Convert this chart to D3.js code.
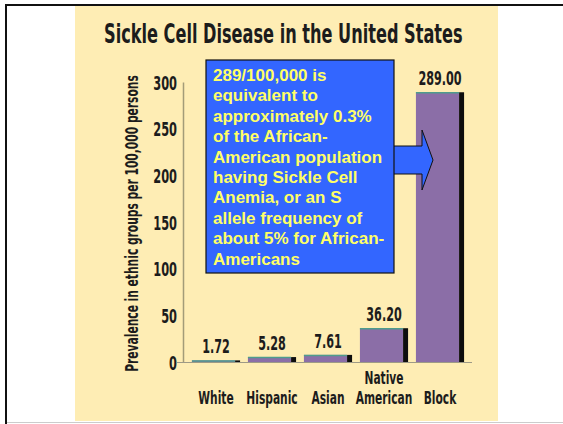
<!DOCTYPE html>
<html>
<head>
<meta charset="utf-8">
<script src="https://cdn.jsdelivr.net/npm/d3@7"></script>
<style>
  html, body { margin: 0; padding: 0; background: #fff; }
  svg { display: block; }
</style>
</head>
<body>
<div id="chart"></div>
<script>
/* data */
const categories = ['White', 'Hispanic', 'Asian', 'Native American', 'Black'];
const catLabels  = [['White'], ['Hispanic'], ['Asian'], ['Native', 'American'], ['Block']];
const values     = [1.72, 5.28, 7.61, 36.20, 289.00];
const yTicks     = [0, 50, 100, 150, 200, 250, 300];
const noteLines  = [
  '289/100,000 is',
  'equivalent to',
  'approximately 0.3%',
  'of the African-',
  'American population',
  'having Sickle Cell',
  'Anemia, or an S',
  'allele frequency of',
  'about 5% for African-',
  'Americans'
];

const W = 563, H = 424;
const FONT = '"DejaVu Sans", sans-serif';
const svg = d3.select('#chart').append('svg').attr('width', W).attr('height', H);

/* condensed look: squeeze a normal bold face horizontally */
function condText(parent, x, y, str, size, sx, anchor, rot) {
  const g = parent.append('g')
    .attr('transform', `translate(${x},${y})` + (rot ? ` rotate(${rot})` : '') + ` scale(${sx},1)`);
  return g.append('text')
    .attr('font-family', FONT).attr('font-weight', 'bold')
    .attr('font-size', size).attr('fill', '#1c1c1c')
    .attr('text-anchor', anchor || 'start')
    .text(str);
}
function fitWidth(t, target) {
  const len = t.node().getComputedTextLength();
  const g = d3.select(t.node().parentNode);
  g.attr('transform', g.attr('transform').replace(/scale\([^)]*\)/, `scale(${target / len},1)`));
}

/* slide frame + cream picture */
svg.append('rect').attr('x', 75).attr('y', 6).attr('width', 423).attr('height', 415).attr('fill', '#feedb4');
svg.append('line').attr('x1', 5).attr('x2', W).attr('y1', 5).attr('y2', 5).attr('stroke', '#111').attr('stroke-width', 2);
svg.append('line').attr('x1', 6).attr('x2', 6).attr('y1', 4).attr('y2', H).attr('stroke', '#111').attr('stroke-width', 2);
svg.append('line').attr('x1', 7).attr('x2', W).attr('y1', 422.5).attr('y2', 422.5).attr('stroke', '#ccc').attr('stroke-width', 1);

const x = d3.scaleBand().domain(categories).range([188, 468]).paddingInner(0.14).paddingOuter(0.07);
const y = d3.scaleLinear().domain([0, 300]).range([362, 82]);

/* title */
const title = condText(svg, 104, 43, 'Sickle Cell Disease in the United States', 26, 1, 'start');
fitWidth(title, 359);

/* y axis */
const yAxis = d3.axisLeft(y).tickValues(yTicks).tickSize(0).tickFormat('');
const gy = svg.append('g').attr('transform', 'translate(183,0)').call(yAxis);
gy.select('.domain').attr('stroke', '#a39c78').attr('stroke-width', 1.5);
gy.selectAll('.tick').each(function (d) {
  condText(d3.select(this), -6, 7, d, 20, 0.57, 'end');
});

const ylab = condText(svg, 138, (75 + 372) / 2, 'Prevalence in ethnic groups per 100,000 persons', 17, 1, 'middle', -90);
fitWidth(ylab, 297);

/* baseline */
svg.append('line').attr('x1', 177).attr('x2', 472).attr('y1', y(0) + 0.5).attr('y2', y(0) + 0.5)
  .attr('stroke', '#9e9a86').attr('stroke-width', 1);

/* bars */
const data = categories.map((c, i) => ({ c, v: values[i], lab: catLabels[i] }));
const bw = x.bandwidth(), side = 5;
const bars = svg.append('g').selectAll('g').data(data).join('g');
bars.append('rect')
  .attr('x', d => x(d.c)).attr('y', d => y(d.v))
  .attr('width', bw - side).attr('height', d => y(0) - y(d.v))
  .attr('fill', '#8b6ea7');
bars.append('rect')
  .attr('x', d => x(d.c) + bw - side).attr('y', d => y(d.v))
  .attr('width', side).attr('height', d => y(0) - y(d.v))
  .attr('fill', '#0d0d0d');
bars.append('line')
  .attr('x1', d => x(d.c)).attr('x2', d => x(d.c) + bw - side)
  .attr('y1', d => y(d.v) + 0.5).attr('y2', d => y(d.v) + 0.5)
  .attr('stroke', '#4f9c8c').attr('stroke-width', 1.5);

/* value labels + category labels */
const lineH = 20.5;
bars.each(function (d) {
  const g = d3.select(this);
  const cx = x(d.c) + bw / 2;
  condText(g, cx, y(d.v) - 7, d.v.toFixed(2), 20, 0.56, 'middle');
  const n = d.lab.length;
  d.lab.forEach((s, i) => condText(g, cx, 404 - (n - 1 - i) * lineH, s, 17.5, 0.61, 'middle'));
});

/* annotation box with block arrow */
const box = { x: 206, y: 60, w: 188, h: 213 };
const ay = 160; // arrow centre
svg.append('path')
  .attr('d', `M${box.x + box.w - 1},${ay - 14} L422,${ay - 14} L422,${ay - 30} L433,${ay} L422,${ay + 30} L422,${ay + 14} L${box.x + box.w - 1},${ay + 14}`)
  .attr('fill', '#3366ff').attr('stroke', '#111').attr('stroke-width', 1);
svg.append('rect').attr('x', box.x).attr('y', box.y).attr('width', box.w).attr('height', box.h)
  .attr('fill', '#3366ff').attr('stroke', '#111').attr('stroke-width', 1.2);
svg.append('text')
  .attr('font-family', '"Liberation Sans", Arial, sans-serif').attr('font-weight', 'bold')
  .attr('font-size', 17).attr('fill', '#ffff66')
  .selectAll('tspan').data(noteLines).join('tspan')
  .attr('x', box.x + 7).attr('y', (d, i) => 81 + i * 20.4)
  .text(d => d);
</script>
</body>
</html>
